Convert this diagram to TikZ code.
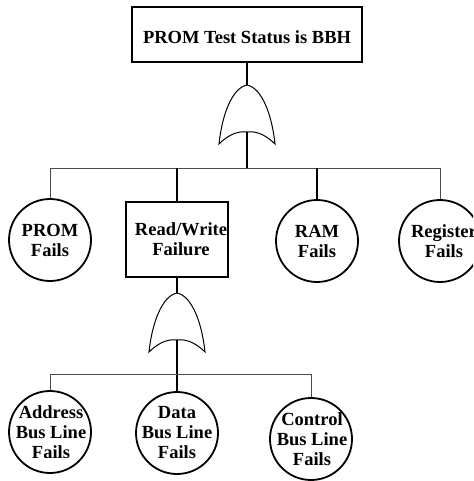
\documentclass[tikz,border=0pt]{standalone}
\usepackage{fontspec}
\setmainfont{Liberation Serif}
\begin{document}
\begin{tikzpicture}[x=1pt,y=-1pt,
  lbl/.style={font=\bfseries\fontsize{18.5}{20}\selectfont, align=center, inner sep=0pt},
  event/.style={draw, circle, line width=1.8pt, minimum size=82pt, inner sep=0pt},
  topbox/.style={draw, rectangle, line width=2.4pt, minimum width=230pt, minimum height=55pt, inner sep=0pt},
  midbox/.style={draw, rectangle, line width=2.4pt, minimum width=102pt, minimum height=75pt, inner sep=0pt},
  trunk/.style={line width=1.8pt},
  branch/.style={line width=0.9pt, draw=black!70},
  gateline/.style={line width=1pt},
  orgate/.pic={
    \draw[gateline] (0,0) .. controls (-15,3) and (-25,30) .. (-28,59)
      .. controls (-17,48) and (-7,46) .. (0,47)
      .. controls (7,46) and (17,48) .. (28,59)
      .. controls (25,30) and (15,3) .. (0,0) -- cycle;
    \coordinate (-in) at (0,0);
    \coordinate (-out) at (0,47);
  }]
\useasboundingbox (0,0) rectangle (473,481);
\clip (0,0) rectangle (473,481);

% top event
\node[topbox] (top) at (247,34.5) {};
\node[lbl] at (247,37) {PROM Test Status is BBH};

% first OR gate and its bus
\pic (g1) at (247,85) {orgate};
\coordinate (bus1) at (247,168);

% first-level events
\node[event] (prom) at (50,240) {};
\node[lbl] at (prom) {PROM\\Fails};
\node[midbox] (rw) at (177,239.5) {};
\node[lbl] at ([xshift=4pt]rw.center) {Read/Write\\Failure};
\node[event] (ram) at (317,241) {};
\node[lbl] at (ram) {RAM\\Fails};
\node[event] (reg) at (440,241) {};
\node[lbl] at ([xshift=4pt]reg.center) {Register\\Fails};

\draw[trunk] (top.south) -- (g1-in);
\draw[trunk] (g1-out) -- (bus1);
\draw[branch] (prom.north |- bus1) -- (reg.north |- bus1);
\draw[branch] (prom.north |- bus1) -- (prom.north);
\draw[trunk] (rw.north |- bus1) -- (rw.north);
\draw[trunk] (ram.north |- bus1) -- (ram.north);
\draw[branch] (reg.north |- bus1) -- (reg.north);

% second OR gate and its bus
\pic (g2) at (177,293) {orgate};
\coordinate (bus2) at (177,374);

% basic events under Read/Write Failure
\node[event] (addr) at (50,432) {};
\node[lbl] at ([xshift=1pt]addr.center) {Address\\Bus Line\\Fails};
\node[event] (data) at (177,433) {};
\node[lbl] at (data) {Data\\Bus Line\\Fails};
\node[event] (ctrl) at (311,439) {};
\node[lbl] at ([xshift=1pt]ctrl.center) {Control\\Bus Line\\Fails};

\draw[trunk] (rw.south) -- (g2-in);
\draw[trunk] (g2-out) -- (data.north);
\draw[branch] (addr.north |- bus2) -- (ctrl.north |- bus2);
\draw[branch] (addr.north |- bus2) -- (addr.north);
\draw[branch] (ctrl.north |- bus2) -- (ctrl.north);
\end{tikzpicture}
\end{document}
